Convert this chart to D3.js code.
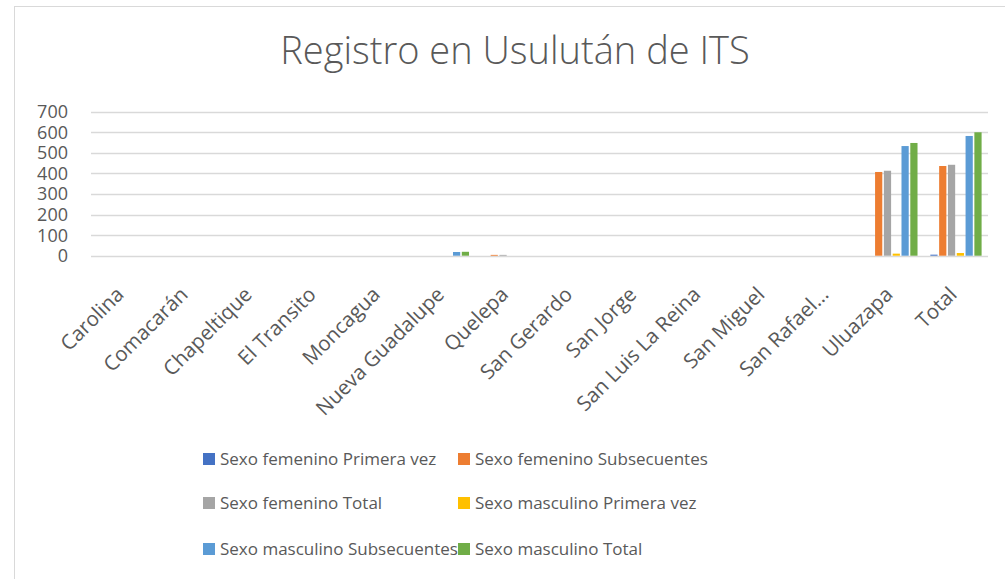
<!DOCTYPE html>
<html><head><meta charset="utf-8">
<script src="https://cdn.jsdelivr.net/npm/d3@7"></script>
<style>
html,body{margin:0;padding:0;background:#fff;}
svg{display:block;font-family:"Open Sans",sans-serif;}
</style></head>
<body>
<svg id="c" width="1005" height="579"></svg>
<script>
const categories = ["Carolina","Comacarán","Chapeltique","El Transito","Moncagua","Nueva Guadalupe","Quelepa","San Gerardo","San Jorge","San Luis La Reina","San Miguel","San Rafael...","Uluazapa","Total"];
const seriesNames = ["Sexo femenino Primera vez","Sexo femenino Subsecuentes","Sexo femenino Total","Sexo masculino Primera vez","Sexo masculino Subsecuentes","Sexo masculino Total"];
const femPrimera   = [0,0,0,0,0,0,0,0,0,0,0,0,0,5];
const femSubsec    = [0,0,0,0,0,0,4,0,0,0,0,0,407,436];
const femTotal     = [0,0,0,0,0,0,4,0,0,0,0,0,413,442];
const mascPrimera  = [0,0,0,0,0,0,0,0,0,0,0,0,10,13];
const mascSubsec   = [0,0,0,0,0,18,0,0,0,0,0,0,533,582];
const mascTotal    = [0,0,0,0,0,19,0,0,0,0,0,0,548,600];
const yTicks = [0,100,200,300,400,500,600,700];
const colors = ["#4472c4","#ed7d31","#a5a5a5","#ffc000","#5b9bd5","#70ad47"];
const seriesValues = [femPrimera,femSubsec,femTotal,mascPrimera,mascSubsec,mascTotal];

const svg = d3.select("#c");
svg.append("rect").attr("x",14.5).attr("y",6.5).attr("width",1100).attr("height",700)
  .attr("fill","#fff").attr("stroke","#d9d9d9").attr("stroke-width",1);

svg.append("text").attr("x",515).attr("y",64).attr("text-anchor","middle")
  .attr("font-size",38).attr("fill","#595959").attr("font-weight",300).text("Registro en Usulután de ITS");

const L=91, R=988, T=111.7, B=255.7;
const x = d3.scaleBand().domain(categories).range([L,R]).paddingInner(0.2).paddingOuter(0.1);
const xs = d3.scaleBand().domain(d3.range(6)).range([0,x.bandwidth()]).paddingInner(0.18);
const y = d3.scaleLinear().domain([0,700]).range([B,T]);

svg.append("g").selectAll("line").data(yTicks).join("line")
  .attr("x1",L).attr("x2",R).attr("y1",d=>Math.round(y(d))+0.5).attr("y2",d=>Math.round(y(d))+0.5)
  .attr("stroke","#d9d9d9").attr("stroke-width",1.3);

svg.append("g").selectAll("text").data(yTicks).join("text")
  .attr("x",68).attr("y",d=>y(d)).attr("dy","0.36em").attr("text-anchor","end")
  .attr("font-size",18).attr("fill","#595959").text(d=>d);

const data = [];
categories.forEach((c,i)=>seriesValues.forEach((s,j)=>data.push({c,j,v:s[i]})));
svg.append("g").selectAll("rect").data(data.filter(d=>d.v>0)).join("rect")
  .attr("x",d=>x(d.c)+xs(d.j)).attr("width",xs.bandwidth())
  .attr("y",d=>y(d.v)).attr("height",d=>B-y(d.v))
  .attr("fill",d=>colors[d.j]);

svg.append("g").selectAll("text").data(categories).join("text")
  .attr("transform",d=>`translate(${x(d)+x.bandwidth()/2-3},${B+35}) rotate(-45)`)
  .attr("text-anchor","end").attr("dy","0.35em")
  .attr("font-size",20.5).attr("fill","#595959").text(d=>d);

const legPos = [[203,459],[458,459],[203,503],[458,503],[203,549],[458,549]];
const lg = svg.append("g").selectAll("g").data(seriesNames).join("g")
  .attr("transform",(d,i)=>`translate(${legPos[i][0]},${legPos[i][1]})`);
lg.append("rect").attr("x",0).attr("y",-6).attr("width",12).attr("height",12).attr("fill",(d,i)=>colors[i]);
lg.append("text").attr("x",17).attr("dy","0.35em").attr("font-size",17).attr("fill","#595959").text(d=>d);
</script>
</body></html>
